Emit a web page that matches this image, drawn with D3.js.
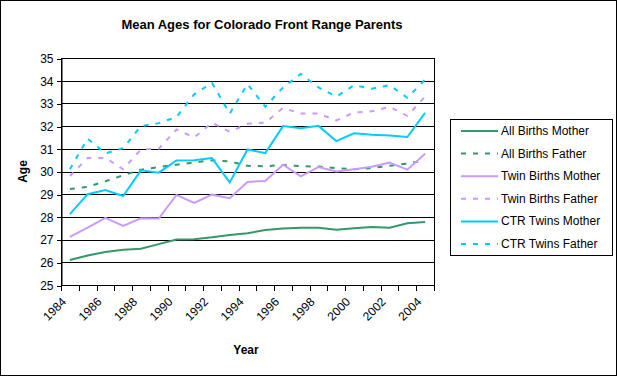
<!DOCTYPE html>
<html>
<head>
<meta charset="utf-8">
<script src="https://cdn.jsdelivr.net/npm/d3@7"></script>
<style>
  body { margin: 0; background: #fff; }
  svg { display: block; font-family: Arial, "Liberation Sans", sans-serif; }
</style>
</head>
<body>
<div id="chart"></div>
<script>
// Years on the x axis
const years = d3.range(1984, 2005);
const tickYears = [1984, 1986, 1988, 1990, 1992, 1994, 1996, 1998, 2000, 2002, 2004];

// Mean ages
const allBirthsMother = [26.1, 26.3, 26.45, 26.55, 26.6, 26.8, 27.0, 27.02, 27.1, 27.2, 27.28, 27.42, 27.49, 27.52, 27.52, 27.43, 27.5, 27.56, 27.52, 27.72, 27.78];
const allBirthsFather = [29.23, 29.32, 29.57, 29.83, 30.08, 30.2, 30.3, 30.4, 30.49, 30.45, 30.25, 30.23, 30.29, 30.23, 30.22, 30.15, 30.1, 30.15, 30.25, 30.35, 30.5];
const twinBirthsMother = [27.12, 27.53, 27.96, 27.6, 27.94, 27.93, 28.97, 28.62, 28.98, 28.82, 29.54, 29.58, 30.3, 29.79, 30.2, 30.0, 30.1, 30.21, 30.39, 30.08, 30.78];
const twinBirthsFather = [29.8, 30.6, 30.6, 30.1, 30.97, 31.0, 31.85, 31.5, 32.15, 31.75, 32.1, 32.15, 32.8, 32.55, 32.55, 32.25, 32.6, 32.65, 32.85, 32.45, 33.3];
const ctrTwinsMother = [28.12, 29.0, 29.18, 28.92, 30.05, 29.95, 30.49, 30.5, 30.59, 29.52, 30.97, 30.81, 32.0, 31.91, 32.01, 31.34, 31.68, 31.62, 31.59, 31.52, 32.58];
const ctrTwinsFather = [30.1, 31.45, 30.8, 31.03, 32.0, 32.13, 32.4, 33.4, 33.9, 32.55, 33.85, 32.85, 33.7, 34.3, 33.7, 33.3, 33.8, 33.65, 33.8, 33.25, 34.05];

const series = [
    { name: "All Births Mother", values: allBirthsMother, color: "#339966", dashed: false },
    { name: "All Births Father", values: allBirthsFather, color: "#339966", dashed: true },
    { name: "Twin Births Mother", values: twinBirthsMother, color: "#CC99FF", dashed: false },
    { name: "Twin Births Father", values: twinBirthsFather, color: "#CC99FF", dashed: true },
    { name: "CTR Twins Mother", values: ctrTwinsMother, color: "#00CCFF", dashed: false },
    { name: "CTR Twins Father", values: ctrTwinsFather, color: "#00CCFF", dashed: true }
];

const width = 617, height = 376;
const plot = { left: 61, right: 434, top: 58, bottom: 285 };

const svg = d3.select("#chart")
    .append("svg")
    .attr("width", width)
    .attr("height", height);

// outer frame
svg.append("rect")
    .attr("x", 0.5).attr("y", 0.5)
    .attr("width", width - 1).attr("height", height - 1)
    .attr("fill", "#fff").attr("stroke", "#000");

const x = d3.scaleBand()
    .domain(years)
    .range([plot.left, plot.right]);

const y = d3.scaleLinear()
    .domain([25, 35])
    .range([plot.bottom, plot.top]);

// gridlines
svg.append("g")
    .selectAll("line")
    .data(y.ticks(10))
    .enter()
    .append("line")
    .attr("x1", plot.left).attr("x2", plot.right)
    .attr("y1", d => Math.round(y(d)) + 0.5)
    .attr("y2", d => Math.round(y(d)) + 0.5)
    .attr("stroke", "#000")
    .attr("shape-rendering", "crispEdges");

// plot frame
svg.append("rect")
    .attr("x", plot.left + 0.5).attr("y", plot.top + 0.5)
    .attr("width", plot.right - plot.left).attr("height", plot.bottom - plot.top)
    .attr("fill", "none").attr("stroke", "#000")
    .attr("shape-rendering", "crispEdges");

// y axis
const yAxis = svg.append("g")
    .attr("transform", `translate(${plot.left + 0.5},0.5)`)
    .call(d3.axisLeft(y).ticks(10).tickSize(5).tickSizeOuter(0));
yAxis.select(".domain").attr("stroke", "#000");
yAxis.selectAll("line").attr("stroke", "#000").attr("shape-rendering", "crispEdges");
yAxis.selectAll("text")
    .attr("x", -8)
    .style("font-size", "12px")
    .style("fill", "#000");

// x axis: ticks at band edges
const xAxis = svg.append("g")
    .attr("transform", `translate(0,${plot.bottom + 0.5})`);
xAxis.append("line")
    .attr("x1", plot.left).attr("x2", plot.right + 1)
    .attr("stroke", "#000")
    .attr("shape-rendering", "crispEdges");
xAxis.selectAll("line.tick")
    .data(years.concat([2005]))
    .enter()
    .append("line")
    .attr("class", "tick")
    .attr("x1", d => Math.round(d === 2005 ? plot.right : x(d)) + 0.5)
    .attr("x2", d => Math.round(d === 2005 ? plot.right : x(d)) + 0.5)
    .attr("y1", 0).attr("y2", 5)
    .attr("stroke", "#000")
    .attr("shape-rendering", "crispEdges");
xAxis.selectAll("text")
    .data(tickYears)
    .enter()
    .append("text")
    .attr("transform", d => `translate(${x(d) + x.bandwidth() / 2 - 3},${17}) rotate(-45)`)
    .attr("text-anchor", "end")
    .style("font-size", "12px")
    .text(d => d);

// lines
const line = d3.line()
    .x((d, i) => x(years[i]) + x.bandwidth() / 2)
    .y(d => y(d));

svg.append("g")
    .selectAll("path")
    .data(series)
    .enter()
    .append("path")
    .attr("d", d => line(d.values))
    .attr("fill", "none")
    .attr("stroke", d => d.color)
    .attr("stroke-width", 2)
    .attr("stroke-dasharray", d => d.dashed ? "5,7" : null);

// title and axis titles
svg.append("text")
    .attr("x", 262).attr("y", 29)
    .attr("text-anchor", "middle")
    .style("font-size", "13px")
    .style("font-weight", "bold")
    .text("Mean Ages for Colorado Front Range Parents");

svg.append("text")
    .attr("x", 246).attr("y", 354)
    .attr("text-anchor", "middle")
    .style("font-size", "12px")
    .style("font-weight", "bold")
    .text("Year");

svg.append("text")
    .attr("transform", `translate(27,${(plot.top + plot.bottom) / 2}) rotate(-90)`)
    .attr("text-anchor", "middle")
    .style("font-size", "12px")
    .style("font-weight", "bold")
    .text("Age");

// legend
const legend = svg.append("g");
legend.append("rect")
    .attr("x", 450.5).attr("y", 119.5)
    .attr("width", 162).attr("height", 136)
    .attr("fill", "#fff").attr("stroke", "#000")
    .attr("shape-rendering", "crispEdges");

const rows = legend.selectAll("g.row")
    .data(series)
    .enter()
    .append("g")
    .attr("class", "row")
    .attr("transform", (d, i) => `translate(0,${131 + i * 22.6})`);

rows.append("line")
    .attr("x1", 461).attr("x2", 498)
    .attr("stroke", d => d.color)
    .attr("stroke-width", 2)
    .attr("stroke-dasharray", d => d.dashed ? "5,7" : null);

rows.append("text")
    .attr("x", 501).attr("y", 4)
    .style("font-size", "12px")
    .text(d => d.name);
</script>
</body>
</html>
